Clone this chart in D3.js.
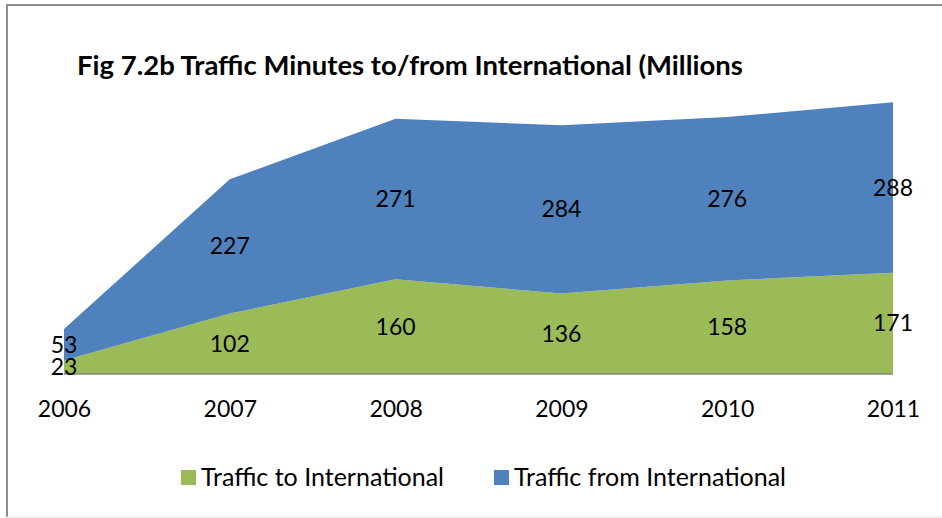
<!DOCTYPE html>
<html>
<head>
<meta charset="utf-8">
<script src="https://cdn.jsdelivr.net/npm/d3@7"></script>
<style>
  html, body { margin: 0; padding: 0; background: #fff; }
  svg { display: block; }
  text { font-family: Lato, "Open Sans", sans-serif; }
</style>
</head>
<body>
<svg id="chart" width="942" height="518"></svg>
<script>
/* ================================
   DATA
================================ */

const years = ["2006", "2007", "2008", "2009", "2010", "2011"];
const trafficTo = [23, 102, 160, 136, 158, 171];
const trafficFrom = [53, 227, 271, 284, 276, 288];

const seriesNames = ["Traffic to International", "Traffic from International"];
const seriesColors = ["#9bbb59", "#4f81bd"];


/* ================================
   CHART
================================ */

const svg = d3.select("#chart");
const width = 942, height = 518;

// outer frame (top + left + faint bottom)
svg.append("path")
  .attr("d", "M7,517 L7,5 L942,5")
  .attr("fill", "none")
  .attr("stroke", "#8c8c8c")
  .attr("stroke-width", 2);

svg.append("line")
  .attr("x1", 7).attr("x2", 942)
  .attr("y1", 517).attr("y2", 517)
  .attr("stroke", "#e6e6e6")
  .attr("stroke-width", 1);

svg.append("text")
  .attr("x", 77)
  .attr("y", 75)
  .style("font-size", "27.5px")
  .style("font-weight", "700")
  .style("fill", "#000")
  .text("Fig 7.2b Traffic Minutes to/from International (Millions");

const table = years.map((y, i) => ({ year: y, to: trafficTo[i], from: trafficFrom[i] }));

const stack = d3.stack().keys(["to", "from"]);
const layers = stack(table);

const x = d3.scalePoint()
  .domain(years)
  .range([64, 893]);

const y = d3.scaleLinear()
  .domain([0, 500])
  .range([374, 78]);

const area = d3.area()
  .x(d => x(d.data.year))
  .y0(d => y(d[0]))
  .y1(d => y(d[1]));

svg.append("g")
  .selectAll("path")
  .data(layers)
  .join("path")
  .attr("d", area)
  .attr("fill", (d, i) => seriesColors[i]);

// baseline
svg.append("line")
  .attr("x1", x(years[0]))
  .attr("x2", x(years[years.length - 1]))
  .attr("y1", y(0))
  .attr("y2", y(0))
  .attr("stroke", "#868686")
  .attr("stroke-width", 1.5);

// year labels
const xAxis = d3.axisBottom(x).tickSize(0).tickPadding(0);
const axisG = svg.append("g")
  .attr("transform", `translate(0,${y(0)})`)
  .call(xAxis);
axisG.select(".domain").remove();
axisG.selectAll("text")
  .attr("y", 43)
  .attr("dy", 0)
  .style("font-family", "Lato, 'Open Sans', sans-serif")
  .style("font-size", "23px")
  .style("fill", "#000");

// data labels, centred in each band
layers.forEach(layer => {
  svg.append("g")
    .selectAll("text")
    .data(layer)
    .join("text")
    .attr("x", d => x(d.data.year))
    .attr("y", d => y((d[0] + d[1]) / 2) + 8)
    .attr("text-anchor", "middle")
    .style("font-size", "23px")
    .style("fill", "#000")
    .text(d => d[1] - d[0]);
});

// legend
const legendItems = [
  { name: seriesNames[0], color: seriesColors[0], x: 181 },
  { name: seriesNames[1], color: seriesColors[1], x: 494 }
];

const legend = svg.append("g");
legendItems.forEach(item => {
  legend.append("rect")
    .attr("x", item.x)
    .attr("y", 470)
    .attr("width", 15)
    .attr("height", 15)
    .attr("fill", item.color);
  legend.append("text")
    .attr("x", item.x + 20)
    .attr("y", 486)
    .style("font-size", "25px")
    .style("fill", "#000")
    .text(item.name);
});
</script>
</body>
</html>
